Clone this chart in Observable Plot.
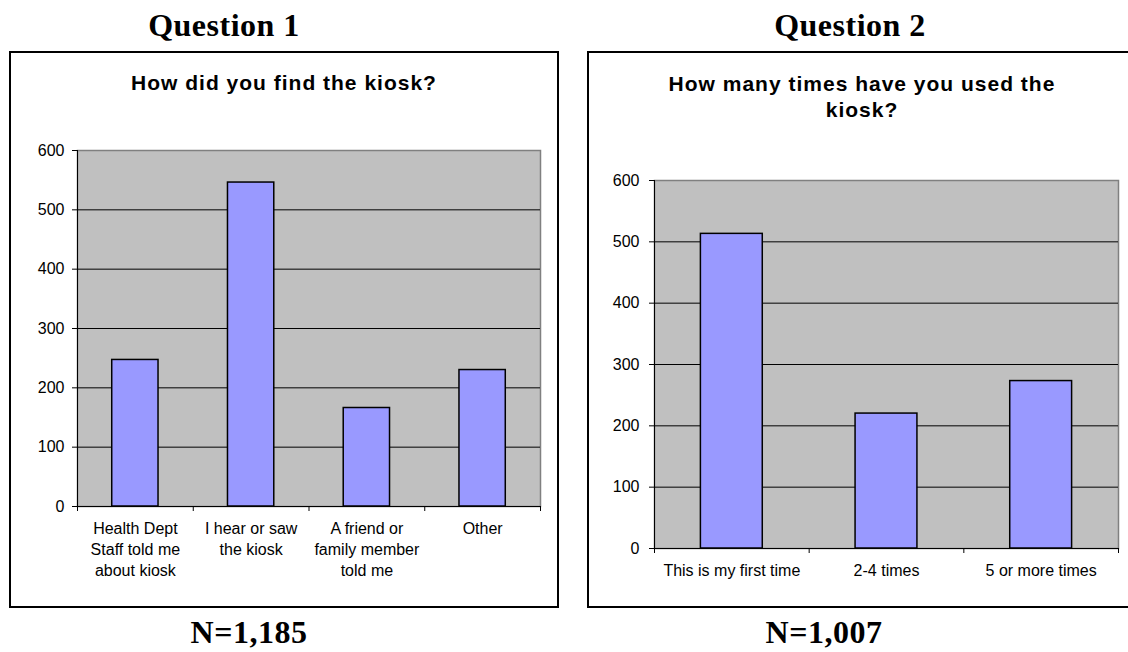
<!DOCTYPE html>
<html>
<head>
<meta charset="utf-8">
<script src="https://cdn.jsdelivr.net/npm/d3@7"></script>
<script src="https://cdn.jsdelivr.net/npm/@observablehq/plot@0.6"></script>
<style>
  html, body { margin: 0; padding: 0; background: #fff; }
  #root { position: relative; width: 1128px; height: 652px; overflow: hidden; background: #fff; }
  .abs { position: absolute; }
  .q { font-family: "Liberation Serif", "Times New Roman", serif; font-weight: bold; font-size: 32px; line-height: 32px; text-align: center; width: 400px; color: #000; letter-spacing: 0.5px; }
  .t { font-family: "Liberation Sans", Arial, sans-serif; font-weight: bold; font-size: 21px; line-height: 26px; text-align: center; width: 520px; color: #000; letter-spacing: 1px; }
  .box { box-sizing: border-box; border: 2px solid #000; }
</style>
</head>
<body>
<div id="root">
  <div class="abs q" style="left:24px; top:9px;">Question 1</div>
  <div class="abs q" style="left:650px; top:9px;">Question 2</div>
  <div class="abs box" style="left:9px; top:51px; width:550px; height:557px;"></div>
  <div class="abs box" style="left:587px; top:51px; width:560px; height:557px;"></div>
  <div class="abs t" style="left:24px; top:70px;">How did you find the kiosk?</div>
  <div class="abs t" style="left:602px; top:71px;">How many times have you used the<br>kiosk?</div>
  <div id="c1" class="abs" style="left:12px; top:120px;"></div>
  <div id="c2" class="abs" style="left:590px; top:150px;"></div>
  <div class="abs q" style="left:49px; top:616px;">N=1,185</div>
  <div class="abs q" style="left:624px; top:616px;">N=1,007</div>
</div>
<script>
// ---- data ----
const q1Categories = ["Health Dept\nStaff told me\nabout kiosk", "I hear or saw\nthe kiosk", "A friend or\nfamily member\ntold me", "Other"];
const q1Values = [247, 546, 166, 230];
const q2Categories = ["This is my first time", "2-4 times", "5 or more times"];
const q2Values = [513, 220, 273];
const yTicks = [0, 100, 200, 300, 400, 500, 600];
const gridValues = [100, 200, 300, 400, 500];

function chart(categories, values, opts) {
  const n = categories.length;
  const data = categories.map((c, i) => ({i, c, v: values[i]}));
  return Plot.plot({
    width: opts.width,
    height: opts.height,
    marginLeft: opts.marginLeft,
    marginRight: opts.marginRight,
    marginTop: opts.marginTop,
    marginBottom: opts.marginBottom,
    style: {fontFamily: "'Liberation Sans', Arial, sans-serif", fontSize: "16px", color: "#000", background: "transparent", overflow: "visible"},
    x: {domain: [0, n], axis: null},
    y: {domain: [0, 600], axis: null},
    marks: [
      Plot.frame({fill: "#c0c0c0", stroke: "#808080", strokeWidth: 1.5}),
      Plot.ruleY(gridValues, {stroke: "#000", strokeWidth: 1}),
      Plot.rectY(data, {x1: d => d.i + 0.3, x2: d => d.i + 0.7, y: "v", fill: "#9999ff", stroke: "#000", strokeWidth: 1.5}),
      Plot.ruleX([0], {stroke: "#000", strokeWidth: 1}),
      Plot.ruleY([0], {stroke: "#000", strokeWidth: 1}),
      Plot.axisY({ticks: yTicks, tickSize: 5, tickPadding: opts.yPad, fontSize: 16, stroke: "#000", fill: "#000", label: null}),
      Plot.axisX({ticks: d3.range(0, n + 1), tickSize: 5, tickFormat: () => "", stroke: "#000", label: null}),
      Plot.text(data, {x: d => d.i + 0.5, y: 0, text: "c", lineAnchor: "top", dy: 12, fontSize: 16, lineHeight: 1.33, fill: "#000"})
    ]
  });
}

document.getElementById("c1").appendChild(chart(q1Categories, q1Values, {
  width: 544, height: 484, marginLeft: 65, marginRight: 16, marginTop: 30, marginBottom: 98, yPad: 8
}));
document.getElementById("c2").appendChild(chart(q2Categories, q2Values, {
  width: 538, height: 454, marginLeft: 64, marginRight: 10, marginTop: 30, marginBottom: 56, yPad: 10
}));
</script>
</body>
</html>
